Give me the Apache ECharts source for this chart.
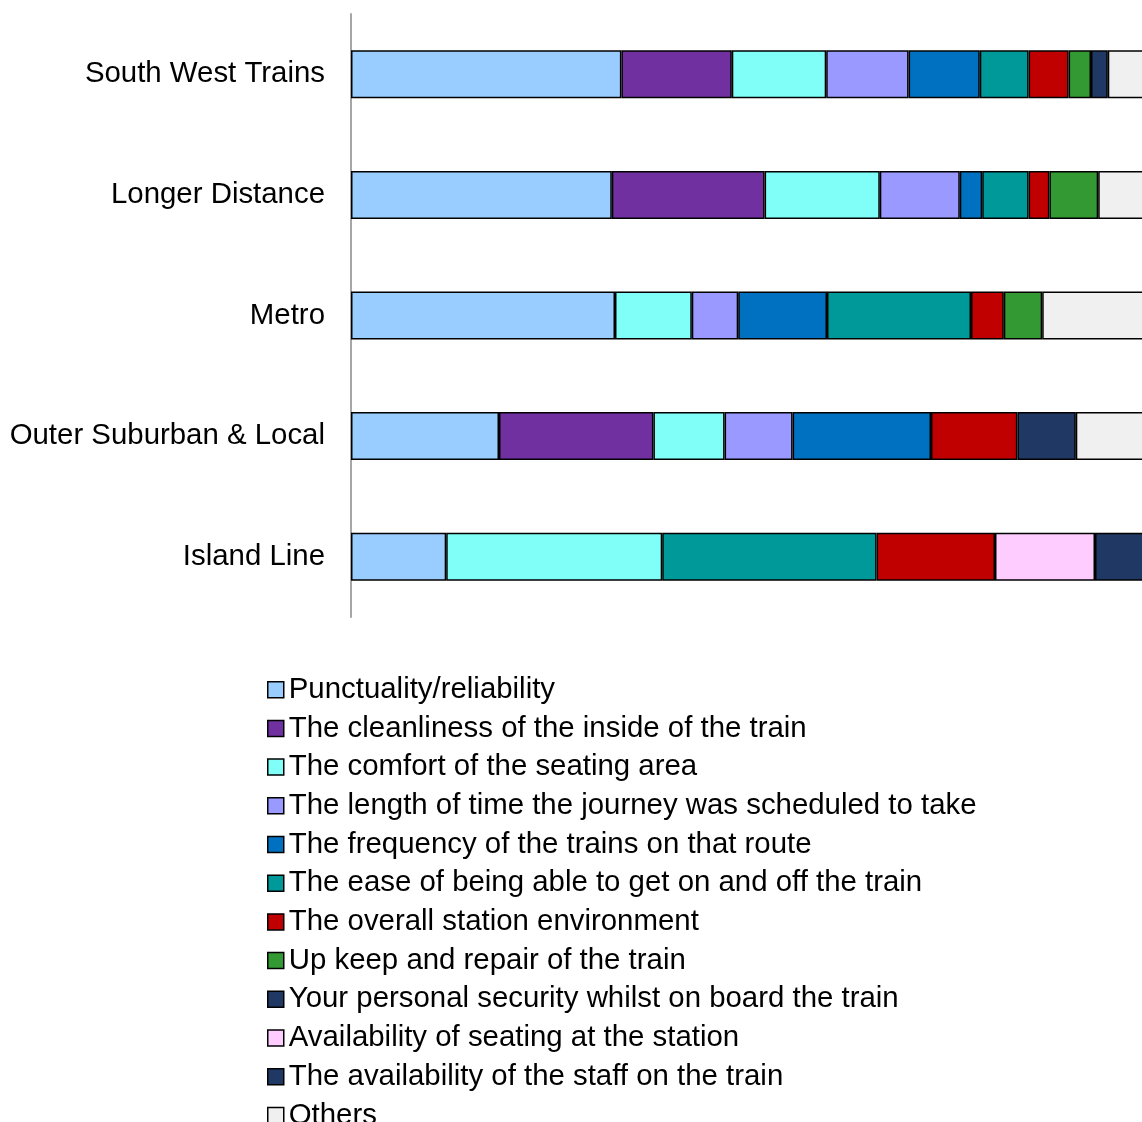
<!DOCTYPE html>
<html>
<head>
<meta charset="utf-8">
<script src="https://cdn.jsdelivr.net/npm/echarts@6/dist/echarts.min.js"></script>
<style>
  html, body { margin: 0; padding: 0; background: #fff; }
  #main { width: 1142px; height: 1122px; }
</style>
</head>
<body>
<div id="main"></div>
<script>
var categories = ["South West Trains", "Longer Distance", "Metro", "Outer Suburban & Local", "Island Line"];

var seriesNames = [
    "Punctuality/reliability",
    "The cleanliness of the inside of the train",
    "The comfort of the seating area",
    "The length of time the journey was scheduled to take",
    "The frequency of the trains on that route",
    "The ease of being able to get on and off the train",
    "The overall station environment",
    "Up keep and repair of the train",
    "Your personal security whilst on board the train",
    "Availability of seating at the station",
    "The availability of the staff on the train",
    "Others"
];

// share of responses (%), per category
var punctuality = [33.8, 32.6, 33.0, 18.5, 11.9];
var cleanliness = [13.8, 19.1, null, 19.3, null];
var comfort     = [11.8, 14.4, 9.6, 8.9, 27.0];
var journeyTime = [10.3, 10.0, 5.8, 8.5, null];
var frequency   = [8.9, 2.8, 11.1, 17.3, null];
var easeOnOff   = [6.1, 5.8, 18.0, null, 26.8];
var station     = [5.0, 2.6, 4.1, 10.8, 14.8];
var upkeep      = [2.8, 6.1, 4.8, null, null];
var security    = [2.1, null, null, 7.3, null];
var seating     = [null, null, null, null, 12.5];
var staff       = [null, null, null, null, 7.0];
var others      = [5.4, 6.6, 13.6, 9.4, null];

var colors = ["#99CCFF", "#7030A0", "#7FFFF8", "#9999FF", "#0070C0", "#009999",
              "#C00000", "#339933", "#1F3864", "#FFCCFF", "#1F3864", "#F0F0F0"];

var allValues = [punctuality, cleanliness, comfort, journeyTime, frequency, easeOnOff,
                 station, upkeep, security, seating, staff, others];

var series = [];
for (var i = 0; i < seriesNames.length; i++) {
    series.push({
        name: seriesNames[i],
        type: 'bar',
        stack: 'total',
        barWidth: 48,
        clip: false,
        data: allValues[i],
        itemStyle: {
            color: colors[i],
            borderColor: '#000',
            borderWidth: 1.5
        }
    });
}

var myChart = echarts.init(document.getElementById('main'));
var option = {
    animation: false,
    backgroundColor: '#fff',
    grid: {
        left: 351,
        top: 14,
        right: 0,
        height: 603
    },
    // the chart is cut at the right edge, so the full 100% runs past the page
    xAxis: {
        type: 'value',
        min: 0,
        max: 98.875,
        show: false
    },
    yAxis: {
        type: 'category',
        inverse: true,
        data: categories,
        axisLine: { lineStyle: { color: '#A6A6A6', width: 2 } },
        axisTick: { show: false },
        axisLabel: {
            margin: 26,
            padding: [4, 0, 0, 0],
            color: '#000',
            fontSize: 29.4,
            fontFamily: 'Liberation Sans, Arial, sans-serif'
        }
    },
    legend: {
        orient: 'vertical',
        left: 267,
        top: 675,
        height: 600,
        padding: 0,
        icon: 'rect',
        itemWidth: 16,
        itemHeight: 16,
        itemGap: 9.3,
        itemTextGap: 7,
        itemStyle: { borderColor: '#000', borderWidth: 1.5 },
        textStyle: {
            color: '#000',
            fontSize: 29.4,
            lineHeight: 29.4,
            fontFamily: 'Liberation Sans, Arial, sans-serif'
        },
        data: seriesNames
    },
    series: series
};
myChart.setOption(option);
</script>
</body>
</html>
